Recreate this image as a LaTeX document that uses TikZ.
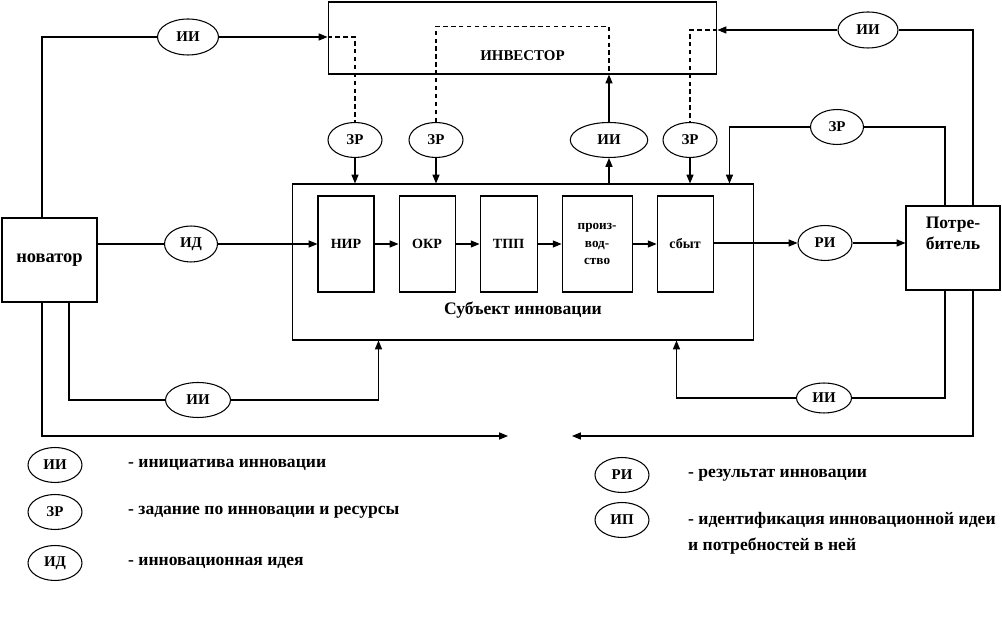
\documentclass[tikz,border=0pt]{standalone}
\usepackage{fontspec}
\setmainfont{Liberation Serif}
\usetikzlibrary{arrows.meta,positioning,calc,shapes.geometric}
\tikzset{
  unit/.style={draw,line width=0.6pt,inner sep=0pt,align=center,font=\fontsize{10}{11}\selectfont\bfseries},
  stage/.style={unit,minimum width=1.12cm,minimum height=1.92cm,font=\fontsize{8}{9}\selectfont\bfseries},
  flow/.style={ellipse,draw,line width=0.6pt,inner sep=0pt,minimum width=1.08cm,minimum height=0.7cm,font=\fontsize{8.5}{9}\selectfont\bfseries},
  link/.style={line width=0.6pt},
  linkarrow/.style={->,>={Triangle[length=5pt,width=4pt]},line width=0.6pt},
  dashlink/.style={line width=0.6pt,dash pattern=on 2.5pt off 2pt},
  legendtext/.style={anchor=west,align=left,font=\fontsize{10}{15}\selectfont\bfseries}
}

\begin{document}
\begin{tikzpicture}[x=0.02cm,y=-0.02cm,node distance=0.48cm]
\useasboundingbox (0,0) rectangle (1002,617);
\node[unit,minimum width=7.78cm,minimum height=1.44cm,
  label={[font=\fontsize{8.5}{9}\selectfont\bfseries,anchor=center,yshift=-0.36cm]center:ИНВЕСТОР}](inv) at (522.5,38){};
\node[unit,minimum width=9.24cm,minimum height=3.12cm,
  label={[font=\fontsize{10}{11}\selectfont\bfseries,anchor=center,yshift=0.6cm]south:Субъект инновации}](subj) at (523,262){};
\node[unit,minimum width=1.9cm,minimum height=1.68cm,font=\fontsize{10.5}{12}\selectfont\bfseries](nov) at (49.5,260){новатор};
\node[unit,minimum width=1.88cm,minimum height=1.68cm,
  label={[font=\fontsize{10}{12}\selectfont\bfseries,align=center,anchor=north,yshift=-0.1cm]north:Потре-\\битель}](potr) at (953,248){};
\node[stage](nir) at (346,244){НИР};
\node[stage,right=of nir](okr){ОКР};
\node[stage,right=of okr,minimum width=1.14cm](tpp){ТПП};
\node[stage,right=of tpp,minimum width=1.4cm,font=\fontsize{7.5}{10}\selectfont\bfseries](proizv){произ-\\вод-\\ство};
\node[stage,right=of proizv](sbyt){сбыт};

\node[flow,minimum width=1.22cm,minimum height=0.72cm](iiTL) at (188,37){ИИ};
\node[flow](zr1) at (355,140){ЗР};
\node[flow](zr2) at (436,140){ЗР};
\node[flow,minimum width=1.55cm](ii3) at (609,140){ИИ};
\node[flow](zr3) at (690,140){ЗР};
\node[flow,minimum width=1.2cm,minimum height=0.72cm](iiTR) at (868,30){ИИ};
\node[flow,minimum width=1.06cm](zrR) at (837,127){ЗР};
\node[flow,minimum width=1.06cm,minimum height=0.72cm](idea) at (191,244){ИД};
\node[flow](ri) at (825,243){РИ};
\node[flow,minimum width=1.3cm](iiBL) at (198,400){ИИ};
\node[flow,minimum width=1.1cm,minimum height=0.6cm](iiBR) at (824,398){ИИ};

\coordinate(invTop) at ([yshift=-0.5cm]inv.north);
\coordinate(outL) at (508,436);
\coordinate(outR) at (572,436);

\draw[link]([xshift=-0.15cm]nov.north)|-(iiTL.west);
\draw[linkarrow](iiTL.east)--(iiTL -| inv.west);
\draw[dashlink](iiTL -| inv.west)-|(zr1.north);
\draw[linkarrow](zr1.south)--(zr1 |- subj.north);
\draw[dashlink](zr2.north)|-(invTop -| ii3)--(ii3 |- inv.south);
\draw[linkarrow](zr2.south)--(zr2 |- subj.north);
\draw[linkarrow](ii3 |- subj.north)--(ii3.south);
\draw[linkarrow](ii3.north)--(ii3 |- inv.south);
\draw[link]([xshift=0.4cm]potr.north)|-(iiTR.east);
\draw[linkarrow](iiTR.west)--(iiTR -| inv.east);
\draw[dashlink](iiTR -| inv.east)-|(zr3.north);
\draw[linkarrow](zr3.south)--(zr3 |- subj.north);
\draw[link]([xshift=-0.16cm]potr.north)|-(zrR.east);
\draw[linkarrow](zrR.west)-|([xshift=-0.5cm]subj.north east);

\draw[link](nov.east |- idea)--(idea.west);
\draw[linkarrow](idea.east)--(nir.west |- idea);
\draw[linkarrow](nir)--(okr);
\draw[linkarrow](okr)--(tpp);
\draw[linkarrow](tpp)--(proizv);
\draw[linkarrow](proizv)--(sbyt);
\draw[linkarrow](sbyt.east |- ri)--(ri.west);
\draw[linkarrow](ri.east)--(potr.west |- ri);

\draw[link]([xshift=0.39cm]nov.south)|-(iiBL.west);
\draw[linkarrow](iiBL.east)-|([xshift=1.74cm]subj.south west);
\draw[link]([xshift=-0.16cm]potr.south)|-(iiBR.east);
\draw[linkarrow](iiBR.west)-|([xshift=-1.56cm]subj.south east);
\draw[linkarrow]([xshift=-0.15cm]nov.south)|-(outL);
\draw[linkarrow]([xshift=0.4cm]potr.south)|-(outR);

\node[flow](lgII) at (55,465){ИИ};
\node[flow](lgZR) at (55,512){ЗР};
\node[flow](lgID) at (55,563){ИД};
\node[flow](lgRI) at (622,475){РИ};
\node[flow](lgIP) at (622,520){ИП};
\node[legendtext](lgIItext) at (122,465){- инициатива инновации};
\node[legendtext](lgZRtext) at (122,512){- задание по инновации и ресурсы};
\node[legendtext](lgIDtext) at (122,563){- инновационная идея};
\node[legendtext](lgRItext) at (682,475){- результат инновации};
\node[legendtext](lgIPtext) at (682,533.5){- идентификация инновационной идеи\\и потребностей в ней};
\end{tikzpicture}
\end{document}
